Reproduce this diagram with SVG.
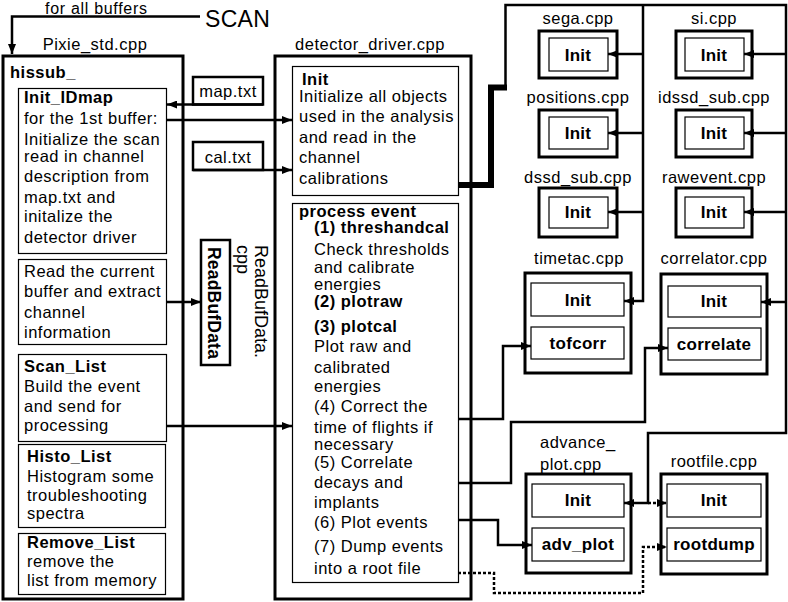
<svg xmlns="http://www.w3.org/2000/svg" width="788" height="602" viewBox="0 0 788 602">
<style>
text{font-family:"Liberation Sans",Arial,Helvetica,sans-serif;font-size:16.5px;letter-spacing:0.5px;fill:#000}
.b{font-weight:bold}
.c{text-anchor:middle}
.bb{font-weight:bold;font-size:17px;text-anchor:middle;letter-spacing:0.3px}
.in{fill:#fff;stroke:#000;stroke-width:1.2}
.out{fill:#fff;stroke:#000;stroke-width:3}
.ln{fill:none;stroke:#000;stroke-width:2.5}
.dt{stroke-dasharray:3 2}
</style>
<defs>
<marker id="ah" viewBox="0 0 10 8" refX="10" refY="4" markerWidth="10" markerHeight="8" markerUnits="userSpaceOnUse" orient="auto"><path d="M0,0 L10,4 L0,8 z" fill="#000"/></marker>
</defs>
<rect width="788" height="602" fill="#fff"/>

<g id="scan">
<text x="45" y="13.5" style="font-size:16px;letter-spacing:0.7px">for all buffers</text>
<text x="205" y="27" style="font-size:23px;letter-spacing:0.3px">SCAN</text>
</g>

<g id="pixie">
<text class="c" x="95" y="50">Pixie_std.cpp</text>
<rect class="out" x="3" y="56" width="180" height="543"/>
<text class="b" x="10" y="78">hissub_</text>
</g>
<g id="initidmap">
<rect class="in" x="18.5" y="88.5" width="148" height="165"/>
<text class="b" x="24" y="103">Init_IDmap</text>
<text x="24" y="124">for the 1st buffer:</text>
<text x="24" y="145">Initialize the scan</text>
<text x="24" y="162">read in channel</text>
<text x="24" y="182">description from</text>
<text x="24" y="203">map.txt and</text>
<text x="24" y="222">initalize the</text>
<text x="24" y="243">detector driver</text>
</g>
<g id="readbuf">
<rect class="in" x="18.5" y="259.5" width="148" height="85"/>
<text x="24" y="277">Read the current</text>
<text x="24" y="297">buffer and extract</text>
<text x="24" y="318">channel</text>
<text x="24" y="338">information</text>
</g>
<g id="scanlist">
<rect class="in" x="18.5" y="354.5" width="148" height="87"/>
<text class="b" x="24" y="372">Scan_List</text>
<text x="24" y="392">Build the event</text>
<text x="24" y="412">and send for</text>
<text x="24" y="431">processing</text>
</g>
<g id="histolist">
<rect class="in" x="18.5" y="444.5" width="147" height="83"/>
<text class="b" x="27" y="462">Histo_List</text>
<text x="27" y="482">Histogram some</text>
<text x="27" y="501">troubleshooting</text>
<text x="27" y="519">spectra</text>
</g>
<g id="removelist">
<rect class="in" x="18.5" y="533.5" width="147" height="61"/>
<text class="b" x="27" y="548">Remove_List</text>
<text x="27" y="567">remove the</text>
<text x="27" y="586">list from memory</text>
</g>

<g id="maptxt">
<rect class="in" x="193" y="77" width="70" height="27.5" style="stroke-width:2.5"/>
<text class="c" x="228" y="97">map.txt</text>
</g>
<g id="caltxt">
<rect class="in" x="193" y="142" width="70" height="28" style="stroke-width:2.5"/>
<text class="c" x="228" y="163">cal.txt</text>
</g>

<g id="readbufdata">
<rect class="in" x="201" y="240" width="29" height="125" style="stroke-width:2.5"/>
<text class="b" transform="translate(208,247) rotate(90)" style="font-size:17.5px;letter-spacing:0.2px">ReadBufData</text>
<text transform="translate(237,245) rotate(90)" style="font-size:18px;letter-spacing:0">cpp</text>
<text transform="translate(255,245) rotate(90)" style="font-size:18px;letter-spacing:0">ReadBufData.</text>
</g>

<g id="detector">
<text class="c" x="370" y="50">detector_driver.cpp</text>
<rect class="out" x="275" y="56" width="196" height="543"/>
</g>
<g id="detinit">
<rect class="in" x="292.5" y="66.5" width="166" height="129"/>
<text class="b" x="302" y="85">Init</text>
<text x="299" y="102">Initialize all objects</text>
<text x="299" y="122">used in the analysis</text>
<text x="299" y="143">and read in the</text>
<text x="299" y="163">channel</text>
<text x="299" y="184">calibrations</text>
</g>
<g id="process">
<rect class="in" x="292.5" y="203.5" width="166" height="379"/>
<text class="b" x="299" y="217">process event</text>
<text class="b" x="314" y="233">(1) threshandcal</text>
<text x="314" y="255">Check thresholds</text>
<text x="314" y="273">and calibrate</text>
<text x="314" y="290">energies</text>
<text class="b" x="314" y="307">(2) plotraw</text>
<text class="b" x="314" y="332">(3) plotcal</text>
<text x="314" y="352">Plot raw and</text>
<text x="314" y="373">calibrated</text>
<text x="314" y="392">energies</text>
<text x="314" y="412">(4) Correct the</text>
<text x="314" y="433">time of flights if</text>
<text x="314" y="450">necessary</text>
<text x="314" y="468">(5) Correlate</text>
<text x="314" y="488">decays and</text>
<text x="314" y="508">implants</text>
<text x="314" y="528">(6) Plot events</text>
<text x="314" y="552">(7) Dump events</text>
<text x="314" y="574">into a root file</text>
</g>

<g id="sega">
<text class="c" x="578" y="24">sega.cpp</text>
<rect class="out" x="539" y="31" width="78" height="47"/>
<rect class="in" x="549" y="38" width="59" height="33"/>
<text class="bb" x="578" y="61">Init</text>
</g>
<g id="positions">
<text class="c" x="578" y="103">positions.cpp</text>
<rect class="out" x="539" y="110" width="78" height="47"/>
<rect class="in" x="549" y="117" width="59" height="32"/>
<text class="bb" x="578" y="139">Init</text>
</g>
<g id="dssdsub">
<text class="c" x="578" y="183">dssd_sub.cpp</text>
<rect class="out" x="539" y="188" width="78" height="49"/>
<rect class="in" x="549" y="197" width="59" height="31"/>
<text class="bb" x="578" y="218">Init</text>
</g>
<g id="si">
<text class="c" x="714" y="24">si.cpp</text>
<rect class="out" x="676" y="31" width="76" height="47"/>
<rect class="in" x="685" y="38" width="59" height="33"/>
<text class="bb" x="714" y="61">Init</text>
</g>
<g id="idssdsub">
<text class="c" x="714" y="103">idssd_sub.cpp</text>
<rect class="out" x="676" y="110" width="76" height="47"/>
<rect class="in" x="685" y="117" width="59" height="32"/>
<text class="bb" x="714" y="139">Init</text>
</g>
<g id="rawevent">
<text class="c" x="714" y="183">rawevent.cpp</text>
<rect class="out" x="676" y="188" width="76" height="49"/>
<rect class="in" x="685" y="197" width="59" height="31"/>
<text class="bb" x="714" y="218">Init</text>
</g>
<g id="timetac">
<text class="c" x="579" y="264">timetac.cpp</text>
<rect class="out" x="525" y="273" width="106" height="100"/>
<rect class="in" x="531" y="283" width="93" height="33"/>
<text class="bb" x="578" y="306">Init</text>
<rect class="in" x="531" y="327" width="93" height="32"/>
<text class="bb" x="578" y="349">tofcorr</text>
</g>
<g id="correlator">
<text class="c" x="714" y="264">correlator.cpp</text>
<rect class="out" x="661" y="274" width="106" height="100"/>
<rect class="in" x="668" y="286" width="93" height="31"/>
<text class="bb" x="714" y="307">Init</text>
<rect class="in" x="668" y="328" width="93" height="32"/>
<text class="bb" x="714" y="350">correlate</text>
</g>
<g id="advplot">
<text x="540" y="448">advance_</text>
<text x="540" y="470">plot.cpp</text>
<rect class="out" x="526" y="474" width="105" height="99"/>
<rect class="in" x="532" y="484" width="92" height="33"/>
<text class="bb" x="578" y="506">Init</text>
<rect class="in" x="532" y="528" width="92" height="33"/>
<text class="bb" x="578" y="550">adv_plot</text>
</g>
<g id="rootfile">
<text class="c" x="714" y="467">rootfile.cpp</text>
<rect class="out" x="661" y="474" width="106" height="100"/>
<rect class="in" x="667" y="484" width="94" height="33"/>
<text class="bb" x="714" y="506">Init</text>
<rect class="in" x="667" y="528" width="94" height="33"/>
<text class="bb" x="714" y="550">rootdump</text>
</g>

<g id="connectors">
<path class="ln" d="M200,16.5 H12 V54" marker-end="url(#ah)"/>
<path class="ln" d="M263,104.5 H167" marker-end="url(#ah)"/>
<path class="ln" d="M167,120 H292" marker-end="url(#ah)"/>
<path class="ln" d="M193,170 H292" marker-end="url(#ah)"/>
<path class="ln" d="M167,302 H201" marker-end="url(#ah)"/>
<path class="ln" d="M167,426 H292" marker-end="url(#ah)"/>
<path d="M458,185 H491 V87.5 H507" fill="none" stroke="#000" stroke-width="6"/>
<path class="ln" d="M505.5,88 V5 H786 V433 H648 V503 H624" marker-end="url(#ah)"/>
<path class="ln dt" d="M648,503 H667" marker-end="url(#ah)"/>
<path class="ln" d="M643,5 V301 H624" marker-end="url(#ah)"/>
<path class="ln" d="M643,54 H608" marker-end="url(#ah)"/>
<path class="ln" d="M643,133 H608" marker-end="url(#ah)"/>
<path class="ln" d="M643,212 H608" marker-end="url(#ah)"/>
<path class="ln" d="M786,54 H744" marker-end="url(#ah)"/>
<path class="ln" d="M786,133 H744" marker-end="url(#ah)"/>
<path class="ln" d="M786,212 H744" marker-end="url(#ah)"/>
<path class="ln" d="M786,302 H761" marker-end="url(#ah)"/>
<path class="ln" d="M458,419 H503 V346 H531" marker-end="url(#ah)"/>
<path class="ln" d="M458,483 H511 V422 H645 V348 H668" marker-end="url(#ah)"/>
<path class="ln" d="M458,520 H498 V545 H532" marker-end="url(#ah)"/>
<path class="ln dt" d="M458,573 H494 V593 H643 V547 H667" marker-end="url(#ah)"/>
</g>
</svg>
